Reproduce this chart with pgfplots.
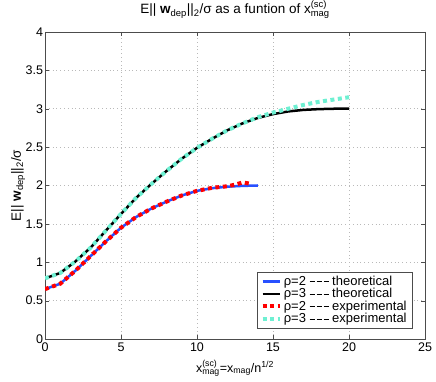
\documentclass[border=0pt]{standalone}
\usepackage{fontspec}
\setmainfont{Liberation Sans}
\usepackage{amsmath}
\usepackage{pgfplots}
\pgfplotsset{compat=1.18}
\definecolor{mblue}{RGB}{40,80,255}
\definecolor{mred}{RGB}{255,0,0}
\definecolor{mcyan}{RGB}{110,240,210}
\newcommand{\sbs}[1]{$_{\text{#1}}$}
\newcommand{\sps}[2]{$^{\text{#1}}_{\text{#2}}$}
\newcommand{\dsh}{\rule[0.27em]{5pt}{0.7pt}}
\newcommand{\ddd}{\dsh\hspace{2pt}\dsh\hspace{2pt}\dsh}

\pgfplotstableread{
x y
0 0.650
1 0.72
2 0.89
3 1.08
4 1.27
5 1.45
6 1.59
7 1.70
8 1.79
9 1.87
10 1.93
11 1.965
12 1.985
13 1.995
14 2.0
}\theotwo
\pgfplotstableread{
x y
0 0.79
1 0.86
2 1.01
3 1.19
4 1.41
5 1.63
6 1.84
7 2.02
8 2.19
9 2.35
10 2.49
11 2.61
12 2.72
13 2.81
14 2.88
15 2.93
16 2.965
17 2.985
18 2.995
19 3.0
20 3.0
}\theothree
\pgfplotstableread{
x y
0 0.650
1 0.72
2 0.89
3 1.08
4 1.27
5 1.45
6 1.59
7 1.70
8 1.79
9 1.87
10 1.93
11 1.97
12 1.99
12.5 2.01
13 2.04
13.6 2.02
}\exptwo
\pgfplotstableread{
x y
0 0.79
1 0.86
2 1.01
3 1.19
4 1.41
5 1.63
6 1.84
7 2.02
8 2.19
9 2.35
10 2.49
11 2.61
12 2.72
13 2.81
14 2.89
15 2.95
16 3.00
17 3.05
18 3.09
19 3.12
20 3.15
}\expthree

\begin{document}
\begin{tikzpicture}
\begin{axis}[width=380pt, height=307pt, scale only axis,
    xmin=0, xmax=25, ymin=0, ymax=4,
    xtick={0,5,...,25}, ytick={0,0.5,...,4},
    grid=major, grid style={gray!55, line width=0.5pt, dash pattern=on 0.8pt off 3pt},
    tick align=inside, major tick length=4pt,
    axis line style={gray!60!black}, tick style={gray!60!black},
    /pgf/number format/assume math mode=true,
    ticklabel style={font=\fontsize{12.5}{14}\selectfont},
    yticklabel style={xshift=1.5pt},
    label style={font=\fontsize{12.5}{14}\selectfont},
    ylabel style={at={(axis description cs:-0.071,0.5)}, anchor=center,
      font=\fontsize{13.5}{15}\selectfont},
    xlabel style={at={(axis description cs:0.5,-0.108)}, anchor=base},
    title style={font=\fontsize{13.5}{15}\selectfont, at={(axis description cs:0.5,1)},
      anchor=base, yshift=12pt},
    title={E|| \textbf{w}\sbs{dep}||\sbs{2}/σ as a funtion of x\sps{(sc)}{mag}},
    xlabel={x\sps{(sc)}{mag}=x\sbs{mag}/n$^{\text{1/2}}$},
    ylabel={E|| \textbf{w}\sbs{dep}||\sbs{2}/σ},
    legend style={at={(rel axis cs:0.968,0.036)}, anchor=south east,
      font=\fontsize{13}{15}\selectfont, draw=gray!60!black, row sep=-2.5pt,
      inner xsep=4pt, inner ysep=1.5pt},
    legend cell align=left,
  ]
  \addplot[mblue, line width=2.5pt] table {\theotwo};
  \addlegendentry{ρ=2 \ddd\ theoretical}
  \addplot[black, line width=2.5pt] table {\theothree};
  \addlegendentry{ρ=3 \ddd\ theoretical}
  \addplot[mred, line width=4pt, dash pattern=on 4pt off 3.5pt] table {\exptwo};
  \addlegendentry{ρ=2 \ddd\ experimental}
  \addplot[mcyan, line width=4pt, dash pattern=on 4pt off 3.5pt] table {\expthree};
  \addlegendentry{ρ=3 \ddd\ experimental}
  \coordinate (ll) at (rel axis cs:0,0);
  \coordinate (ur) at (rel axis cs:1,1);
\end{axis}
\pgfresetboundingbox
\path ([shift={(-45pt,-43pt)}]ll) rectangle ([shift={(11pt,32pt)}]ur);
\end{tikzpicture}
\end{document}
